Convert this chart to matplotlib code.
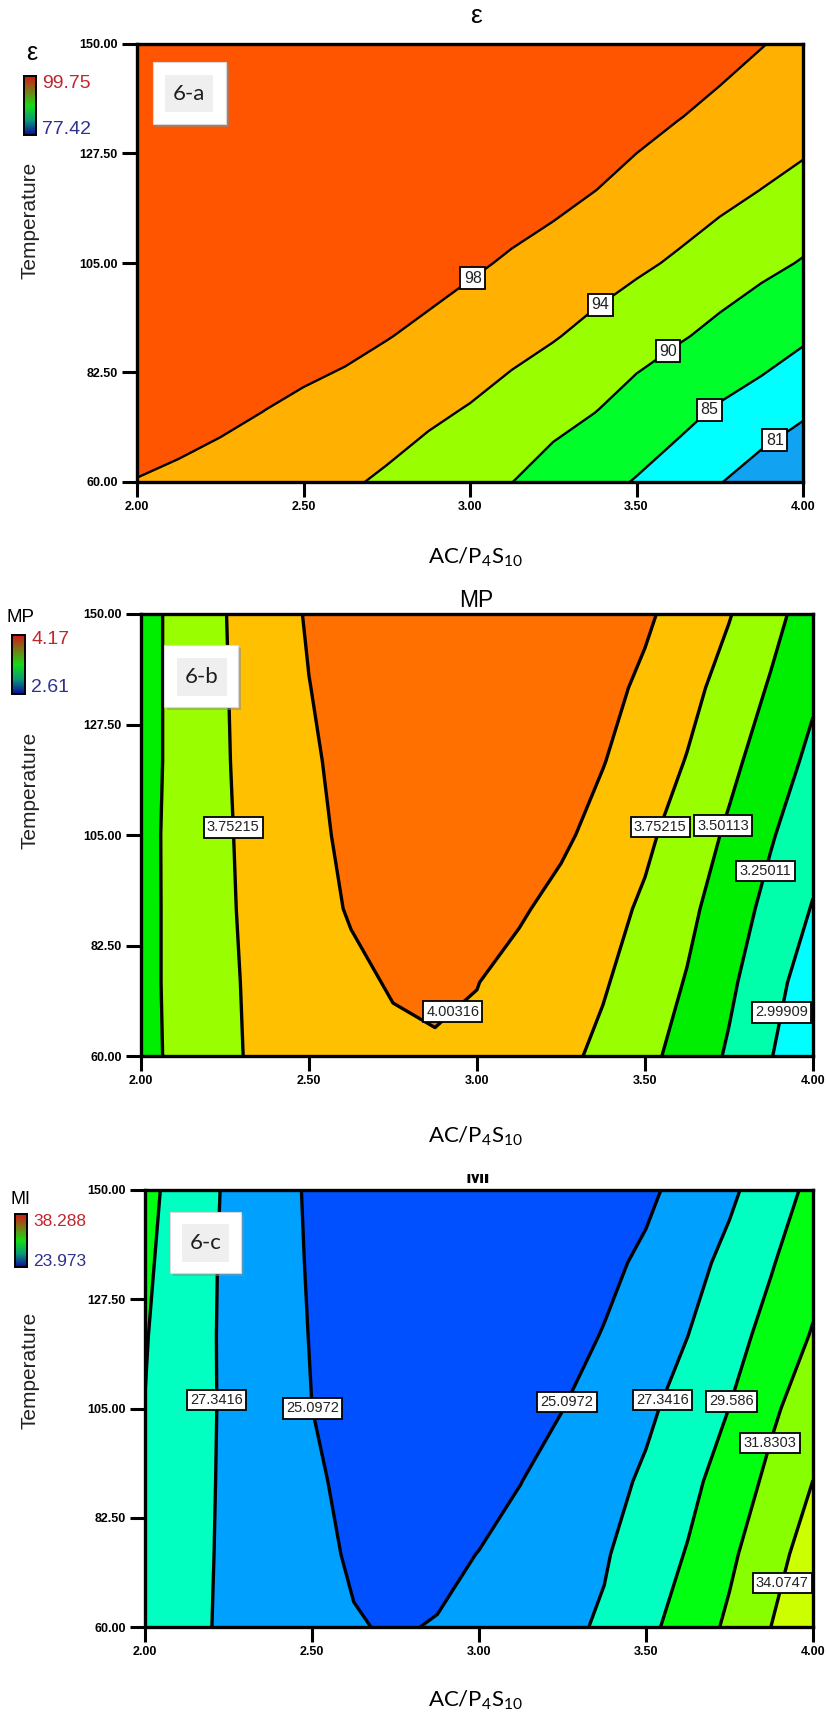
import numpy as np
import matplotlib
matplotlib.use('Agg')
import matplotlib.pyplot as plt
from matplotlib.colors import LinearSegmentedColormap
from matplotlib.patches import Rectangle
from matplotlib.transforms import Bbox, TransformedBbox

plt.rcParams['font.family'] = ['Liberation Sans', 'DejaVu Sans']

W, H = 826, 1716

# factor grid (AC/P4S10 ratio, temperature)
ratio = [2.0, 2.125, 2.25, 2.375, 2.5, 2.625, 2.75, 2.875, 3.0,
         3.125, 3.25, 3.375, 3.5, 3.625, 3.75, 3.875, 4.0]
temp = [60, 75, 90, 105, 120, 135, 150]

# response values (rows = temperature)
eps = [
    [97.89, 97.19, 96.50, 95.81, 95.11, 94.42, 93.53, 92.37, 91.21, 90.05, 88.29, 86.50, 84.71, 82.93, 81.14, 79.28, 77.42],
    [99.75, 99.75, 98.95, 98.10, 97.25, 96.41, 95.56, 94.71, 93.81, 92.60, 91.40, 90.19, 88.36, 86.41, 84.59, 83.15, 81.70],
    [99.75, 99.75, 99.75, 99.75, 99.75, 99.14, 98.16, 97.18, 96.20, 95.22, 94.24, 93.03, 91.74, 90.46, 88.92, 87.23, 85.55],
    [99.75, 99.75, 99.75, 99.75, 99.75, 99.75, 99.75, 99.53, 98.55, 97.57, 96.59, 95.61, 94.63, 93.55, 92.30, 91.05, 89.74],
    [99.75, 99.75, 99.75, 99.75, 99.75, 99.75, 99.75, 99.75, 99.75, 99.75, 99.06, 98.04, 97.02, 96.00, 94.98, 93.96, 92.94],
    [99.75, 99.75, 99.75, 99.75, 99.75, 99.75, 99.75, 99.75, 99.75, 99.75, 99.75, 99.75, 98.97, 98.10, 97.24, 96.37, 95.50],
    [99.75, 99.75, 99.75, 99.75, 99.75, 99.75, 99.75, 99.75, 99.75, 99.75, 99.75, 99.75, 99.75, 99.75, 99.02, 98.11, 97.20],
]
mp = [
    [3.43, 3.568, 3.708, 3.81, 3.87, 3.92, 3.96, 3.98, 3.96, 3.90, 3.81, 3.70, 3.565, 3.406, 3.22, 3.009, 2.77],
    [3.44, 3.568, 3.713, 3.82, 3.90, 3.96, 4.02, 4.04, 4.008, 3.93, 3.85, 3.775, 3.635, 3.486, 3.295, 3.079, 2.876],
    [3.44, 3.568, 3.72, 3.84, 3.93, 4.02, 4.06, 4.08, 4.07, 4.03, 3.937, 3.833, 3.718, 3.559, 3.373, 3.176, 2.985],
    [3.44, 3.57, 3.727, 3.85, 3.95, 4.05, 4.09, 4.11, 4.11, 4.09, 4.045, 3.925, 3.798, 3.642, 3.463, 3.27, 3.086],
    [3.43, 3.568, 3.736, 3.86, 3.972, 4.07, 4.11, 4.14, 4.15, 4.14, 4.10, 4.012, 3.879, 3.742, 3.562, 3.376, 3.19],
    [3.43, 3.568, 3.741, 3.87, 3.999, 4.09, 4.14, 4.16, 4.17, 4.16, 4.13, 4.07, 3.96, 3.823, 3.663, 3.477, 3.29],
    [3.43, 3.568, 3.747, 3.886, 4.025, 4.10, 4.14, 4.16, 4.17, 4.17, 4.14, 4.09, 4.04, 3.904, 3.765, 3.579, 3.38],
]
mi = [
    [29.35, 28.01, 26.9, 26.2, 25.6, 25.2, 24.95, 25.2, 25.75, 26.3, 26.9, 27.6, 29.07, 30.55, 32.22, 34.09, 35.9],
    [29.42, 28.08, 26.95, 26.25, 25.54, 24.9, 24.55, 24.6, 25.14, 25.7, 26.35, 27.15, 28.41, 29.72, 31.42, 33.35, 35.0],
    [29.5, 28.15, 26.98, 26.15, 25.34, 24.7, 24.3, 24.1, 24.35, 25.07, 25.85, 26.65, 27.66, 29.0, 30.57, 32.34, 34.09],
    [29.56, 28.22, 27.0, 26.0, 25.1, 24.55, 24.2, 24.0, 24.1, 24.45, 25.07, 25.9, 26.94, 28.22, 29.61, 31.46, 33.05],
    [29.7, 28.3, 26.95, 25.95, 25.01, 24.45, 24.15, 24.0, 23.98, 24.15, 24.55, 25.18, 26.0, 27.33, 28.78, 30.31, 32.0],
    [29.92, 28.43, 26.95, 25.85, 24.93, 24.4, 24.1, 24.0, 23.97, 24.05, 24.3, 24.7, 25.41, 26.62, 27.89, 29.43, 31.05],
    [30.17, 28.58, 27.03, 25.85, 24.84, 24.3, 24.05, 23.98, 23.97, 24.0, 24.15, 24.4, 24.74, 25.74, 26.96, 28.48, 30.14],
]

eps_levels = [81, 85, 90, 94, 98]
mp_levels = [2.99909, 3.25011, 3.50113, 3.75215, 4.00316]
mi_levels = [25.0972, 27.3416, 29.586, 31.8303, 34.0747]

eps_colors = ['#12A2F2', '#00FFFF', '#00FF2A', '#99FF00', '#FFB000', '#FF5500']
mp_colors = ['#00FFFF', '#00FFAA', '#00EE00', '#99FF00', '#FFC000', '#FF7000']
mi_colors = ['#0050FF', '#00A0FF', '#00FFC0', '#00FF10', '#88FF00', '#CCFF00']

# where the contour labels sit (data coords)
eps_lab = [(3.006, 102.1), (3.40, 95.7), (3.60, 86.3), (3.715, 75.2), (3.90, 70.1)]
mp_lab = [(2.265, 106.5), (2.91, 70.4), (3.54, 106.7), (3.743, 106.7), (3.862, 97.6), (3.897, 69.0)]
mi_lab = [(2.205, 106.7), (2.50, 105.0), (3.252, 106.7), (3.55, 106.7), (3.744, 106.7), (3.874, 97.8), (3.893, 69.3)]

xticks = [2.0, 2.5, 3.0, 3.5, 4.0]
yticks = [60.0, 82.5, 105.0, 127.5, 150.0]

ranges = [('99.75', '77.42'), ('4.17', '2.61'), ('38.288', '23.973')]

fig = plt.figure(figsize=(W / 100, H / 100), dpi=100)


def frac(x0, y0, x1, y1):
    return [x0 / W, 1 - y1 / H, (x1 - x0) / W, (y1 - y0) / H]


def ftext(x, y, s, **kw):
    return fig.text(x / W, 1 - y / H, s, **kw)


def panel(box, z, levels, colors, lw, labpos, labsize):
    ax = fig.add_axes(frac(*box))
    ax.contourf(ratio, temp, z, levels=levels, colors=colors, extend='both')
    cs = ax.contour(ratio, temp, z, levels=levels, colors='black', linewidths=lw)
    ax.set_xlim(2, 4)
    ax.set_ylim(60, 150)
    ax.set_xticks(xticks)
    ax.set_xticklabels(['%.2f' % v for v in xticks])
    ax.set_yticks(yticks)
    ax.set_yticklabels(['%.2f' % v for v in yticks])
    ax.tick_params(direction='out', length=11, width=2.2, labelsize=9, pad=3)
    for lab in ax.get_xticklabels() + ax.get_yticklabels():
        lab.set_fontweight('bold')
    for s in ax.spines.values():
        s.set_linewidth(2.4)
    texts = ax.clabel(cs, levels=levels, manual=labpos, inline=False, fmt='%g', fontsize=labsize)
    for t in texts:
        t.set_rotation(0)
        t.set_color('#222222')
        t.set_bbox(dict(boxstyle='square,pad=0.22', fc='white', ec='black', lw=1.3))
    return ax


def badge(box, inner, s, fs):
    x0, y0, x1, y1 = box
    fig.add_artist(Rectangle((x0 / W + 3 / W, 1 - (y1 + 3) / H), (x1 - x0) / W, (y1 - y0) / H,
                             transform=fig.transFigure, fc='#8C8C8C', ec='none', alpha=0.55))
    fig.add_artist(Rectangle((x0 / W, 1 - y1 / H), (x1 - x0) / W, (y1 - y0) / H,
                             transform=fig.transFigure, fc='white', ec='#D8D8D8', lw=0.8))
    a0, b0, a1, b1 = inner
    fig.add_artist(Rectangle((a0 / W, 1 - b1 / H), (a1 - a0) / W, (b1 - b0) / H,
                             transform=fig.transFigure, fc='#EFEFEF', ec='none'))
    ftext((a0 + a1) / 2, (b0 + b1) / 2, s, ha='center', va='center', fontsize=fs,
          family=['Lato', 'DejaVu Sans'], color='#1E1E1E')


cmap = LinearSegmentedColormap.from_list('rgb', ['#0C0C9C', '#0A9A7A', '#14DC14', '#7A7A16', '#D41818'])


def legend(name, nfs, npos, bar, hi, lo, vfs, hy, ly):
    lax = fig.add_axes(frac(*bar))
    lax.imshow(np.linspace(0, 1, 120).reshape(-1, 1), aspect='auto', cmap=cmap, origin='lower')
    lax.set_xticks([])
    lax.set_yticks([])
    for s in lax.spines.values():
        s.set_linewidth(1.4)
    ftext(npos[0], npos[1], name, ha='center', va='center', fontsize=nfs)
    ftext(bar[2] + 6, hy, hi, ha='left', va='center', fontsize=vfs, color='#C0272D')
    ftext(bar[2] + 6, ly, lo, ha='left', va='center', fontsize=vfs, color='#2E3192')


xlab = r'AC/P$_{\mathregular{4}}$S$_{\mathregular{10}}$'

# ---- panel a : epsilon
panel((137, 44, 803, 482), eps, eps_levels, eps_colors, 1.7, eps_lab, 11.5)
ftext(476, 16, 'ε', ha='center', va='center', fontsize=19)
legend('ε', 18, (32, 53), (24, 76, 36, 135), ranges[0][0], ranges[0][1], 14, 83, 129)
badge((153, 62, 226, 124), (165, 75, 213, 112), '6-a', 16)
ftext(30, 220, 'Temperature', rotation=90, ha='center', va='center', fontsize=15, color='#222222')
ftext(476, 557, xlab, ha='center', va='center', fontsize=16, family=['Lato', 'DejaVu Sans'])

# ---- panel b : MP
panel((141, 614, 813, 1056), mp, mp_levels, mp_colors, 2.4, mp_lab, 10.5)
ftext(476, 607, 'MP', ha='center', va='baseline', fontsize=16.5)
legend('MP', 13.5, (21, 617), (12, 635, 25, 694), ranges[1][0], ranges[1][1], 14, 640, 688)
badge((164, 645, 238, 707), (177, 658, 227, 696), '6-b', 16)
ftext(30, 790, 'Temperature', rotation=90, ha='center', va='center', fontsize=15, color='#222222')
ftext(476, 1136, xlab, ha='center', va='center', fontsize=16, family=['Lato', 'DejaVu Sans'])

# ---- panel c : MI (title partly cut off at the top, as in the source)
panel((145, 1190, 813, 1627), mi, mi_levels, mi_colors, 2.4, mi_lab, 10.5)
t = ftext(478, 1183, 'MI', ha='center', va='baseline', fontsize=16, fontweight='bold')
t.set_clip_box(TransformedBbox(Bbox([[0, 0], [1, 1 - 1174 / H]]), fig.transFigure))
t.set_clip_on(True)
legend('MI', 13, (20, 1199), (15, 1214, 27, 1267), ranges[2][0], ranges[2][1], 12.5, 1221, 1261)
badge((170, 1212, 241, 1273), (182, 1224, 229, 1262), '6-c', 16)
ftext(30, 1370, 'Temperature', rotation=90, ha='center', va='center', fontsize=15, color='#222222')
ftext(476, 1700, xlab, ha='center', va='center', fontsize=16, family=['Lato', 'DejaVu Sans'])

fig.savefig('out.png', dpi=100)
